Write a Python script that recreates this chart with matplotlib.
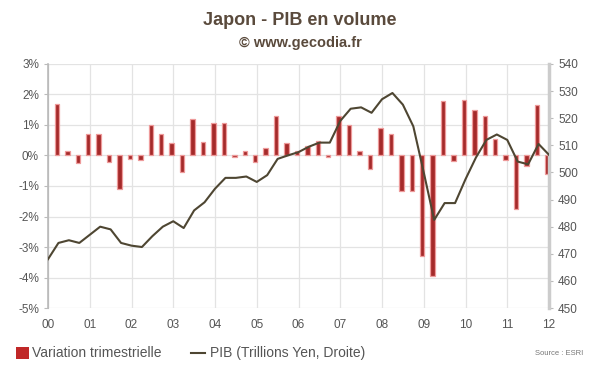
import matplotlib
matplotlib.use("Agg")
import matplotlib.pyplot as plt
import numpy as np
from matplotlib.patches import Rectangle
from matplotlib.lines import Line2D

plt.rcParams['font.family'] = ['Liberation Sans', 'DejaVu Sans']

# Quarterly GDP variation (%), 2000Q2 .. 2012Q1
variation = [1.7, 0.15, -0.25, 0.7, 0.7, -0.2, -1.1, -0.1, -0.15, 1.0,
             0.7, 0.4, -0.55, 1.2, 0.45, 1.05, 1.05, -0.05, 0.15, -0.2,
             0.25, 1.3, 0.4, 0.15, 0.3, 0.47, -0.05, 1.3, 1.0, 0.15,
             -0.43, 0.9, 0.7, -1.17, -1.17, -3.28, -3.95, 1.78, -0.18, 1.83,
             1.5, 1.3, 0.53, -0.15, -1.77, -0.35, 1.67, -0.6]
# GDP level (trillions yen), 2000Q1 .. 2012Q1
pib = [468, 474, 475, 474, 477, 480, 479, 474, 473, 472.5,
       476.5, 480, 482, 479.5, 486, 489, 494, 498, 498, 498.5,
       496.5, 499, 505, 506.3, 507.5, 509.5, 511, 511, 519, 523.5,
       524, 522, 527, 529.3, 525, 517, 500, 482.5, 488.7, 488.7,
       497.5, 505.5, 512, 514, 512, 504, 503, 510.5, 506.5]
year_labels = ["00", "01", "02", "03", "04", "05", "06", "07", "08", "09", "10", "11", "12"]
left_ticks = [3, 2, 1, 0, -1, -2, -3, -4, -5]
right_ticks = [540, 530, 520, 510, 500, 490, 480, 470, 460, 450]

fig = plt.figure(figsize=(6, 3.72), dpi=100)
ax = fig.add_axes([0.08, 0.172, 0.835, 0.656])
ax2 = ax.twinx()

xb = np.arange(1, len(variation) + 1) - 0.15
ax.bar(xb, variation, width=0.42, color="#A52A2A", edgecolor="#EE9A9A",
       linewidth=0.9, zorder=3)
ax.set_ylim(-5, 3)
ax.set_xlim(0, 48)
ax.set_yticks(left_ticks)
ax.set_yticklabels([f"{t}%" for t in left_ticks])
ax.set_xticks(np.arange(0, 49, 4))
ax.set_xticklabels(year_labels)
ax.grid(True, color="#E3E3E3", linewidth=0.9, zorder=0)
ax.set_axisbelow(True)

xl = np.arange(len(pib))
ax2.plot(xl, pib, color="#4E4632", linewidth=1.5, zorder=5)
ax2.set_ylim(450, 540)
ax2.set_yticks(right_ticks)
ax2.set_xlim(0, 48)

for a in (ax, ax2):
    a.spines["top"].set_visible(False)
    a.spines["bottom"].set_visible(False)
    a.spines["left"].set_color("#BBBBBB")
    a.spines["right"].set_color("#CCCCCC")
ax2.spines["right"].set_linewidth(2.5)
ax.spines["left"].set_linewidth(1.2)
ax.tick_params(axis="y", labelsize=8.5, length=3, color="#BBBBBB", labelcolor="#555555")
ax.tick_params(axis="x", length=0, labelsize=8.5, labelcolor="#555555", pad=8)
ax2.tick_params(axis="y", labelsize=8.5, length=3, color="#BBBBBB", labelcolor="#555555")

fig.text(0.5, 0.945, "Japon - PIB en volume", ha="center", va="center",
         fontsize=13, fontweight="bold", color="#5A4A3C")
fig.text(0.5, 0.885, "© www.gecodia.fr", ha="center", va="center",
         fontsize=10.5, fontweight="bold", color="#5A4A3C")

# legend
fig.patches.append(Rectangle((0.027, 0.035), 0.022, 0.032, transform=fig.transFigure,
                             facecolor="#C02828", edgecolor="none"))
fig.text(0.053, 0.05, "Variation trimestrielle", fontsize=10, color="#555555", va="center")
fig.lines.append(Line2D([0.318, 0.342], [0.05, 0.05], transform=fig.transFigure,
                        color="#4E4632", linewidth=1.5))
fig.text(0.35, 0.05, "PIB (Trillions Yen, Droite)", fontsize=10, color="#555555", va="center")
fig.text(0.972, 0.05, "Source : ESRI", fontsize=5.5, color="#777777", va="center", ha="right")

fig.savefig("out.png", dpi=100)
